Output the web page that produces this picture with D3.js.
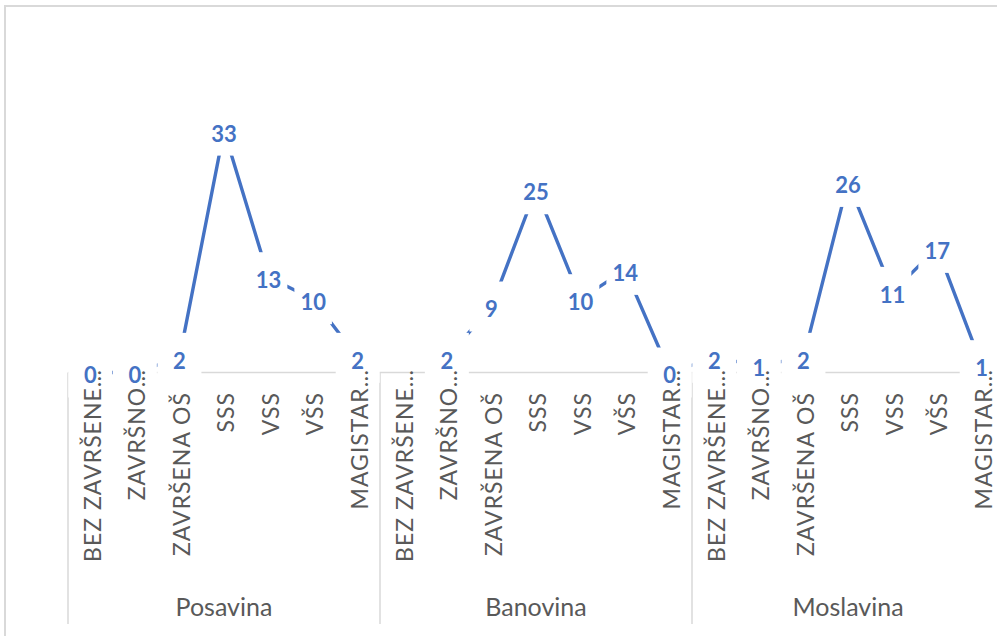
<!DOCTYPE html>
<html>
<head>
<meta charset="utf-8">
<script src="https://cdn.jsdelivr.net/npm/d3@7"></script>
<style>
  html, body { margin: 0; padding: 0; background: #fff; }
  svg { display: block; }
</style>
</head>
<body>
<svg id="chart" width="997" height="636"></svg>
<script>
// ---- data ----
const groups = ["Posavina", "Banovina", "Moslavina"];
const categories = ["BEZ ZAVRŠENE…", "ZAVRŠNO…", "ZAVRŠENA OŠ", "SSS", "VSS", "VŠS", "MAGISTAR…"];
const posavina = [0, 0, 2, 33, 13, 10, 2];
const banovina = [null, 2, 9, 25, 10, 14, 0];
const moslavina = [2, 1, 2, 26, 11, 17, 1];
const seriesByGroup = [posavina, banovina, moslavina];
const yDomain = [0, 40];

// ---- build flat rows ----
const rows = [];
groups.forEach((g, gi) => {
  categories.forEach((c, ci) => {
    rows.push({ key: g + "|" + ci, group: g, cat: c, value: seriesByGroup[gi][ci] });
  });
});

const svg = d3.select("#chart");
const W = 997, H = 636;

// chart border
svg.append("rect")
  .attr("x", 5).attr("y", 6)
  .attr("width", W + 10).attr("height", H + 10)
  .attr("fill", "#fff").attr("stroke", "#d9d9d9").attr("stroke-width", 2);

const plotLeft = 68, groupW = 312;
const x = d3.scaleBand()
  .domain(rows.map(d => d.key))
  .range([plotLeft, plotLeft + groupW * groups.length])
  .paddingInner(0).paddingOuter(0);
const y = d3.scaleLinear().domain(yDomain).range([372.5, 372.5 - 7.33 * 40]);

const cx = d => x(d.key) + x.bandwidth() / 2;
const axisY = y(0);
const gray = "#d9d9d9";
const blue = "#4472C4";
const textGray = "#595959";

// x axis baseline
svg.append("line")
  .attr("x1", plotLeft).attr("x2", plotLeft + groupW * groups.length)
  .attr("y1", axisY).attr("y2", axisY)
  .attr("stroke", gray).attr("stroke-width", 1.5);

// group separators
const sepX = d3.range(groups.length + 1).map(i => plotLeft + groupW * i);
svg.selectAll("line.sep").data(sepX).enter().append("line")
  .attr("class", "sep")
  .attr("x1", d => d).attr("x2", d => d)
  .attr("y1", axisY).attr("y2", 624)
  .attr("stroke", gray).attr("stroke-width", 1.5);

// series line
const line = d3.line()
  .defined(d => d.value !== null)
  .x(d => cx(d))
  .y(d => y(d.value));
svg.append("path")
  .datum(rows)
  .attr("d", line)
  .attr("fill", "none")
  .attr("stroke", blue)
  .attr("stroke-width", 3.4)
  .attr("stroke-linejoin", "round");

// data labels with white boxes
const labelRows = rows.filter(d => d.value !== null);
const lg = svg.append("g");
const lab = lg.selectAll("g.lab").data(labelRows).enter().append("g").attr("class", "lab");
lab.append("text")
  .attr("x", d => cx(d))
  .attr("y", d => y(d.value) + 3)
  .attr("dy", "0.36em")
  .attr("text-anchor", "middle")
  .attr("font-family", "Lato, 'Open Sans', sans-serif")
  .attr("font-weight", "bold")
  .attr("font-size", "22px")
  .attr("fill", blue)
  .text(d => d.value);
lab.each(function(d) {
  const t = d3.select(this).select("text");
  const tw = t.node().getComputedTextLength();
  const bw = String(d.value).length === 1 ? 44 : tw + 12;
  d3.select(this).insert("rect", "text")
    .attr("x", cx(d) - bw / 2)
    .attr("y", y(d.value) - 25)
    .attr("width", bw)
    .attr("height", 50)
    .attr("fill", "#fff");
});

// category labels (rotated)
svg.selectAll("text.cat").data(rows).enter().append("text")
  .attr("class", "cat")
  .attr("transform", d => {
    const top = d.cat.endsWith("…") ? 369 : 392;
    return `translate(${cx(d) + 2},${top}) rotate(-90)`;
  })
  .attr("dy", "0.36em")
  .attr("text-anchor", "end")
  .attr("font-family", "Lato, 'Open Sans', sans-serif")
  .attr("font-size", "23px")
  .attr("letter-spacing", "1px")
  .attr("fill", textGray)
  .text(d => d.cat);

// group labels
svg.selectAll("text.grp").data(groups).enter().append("text")
  .attr("class", "grp")
  .attr("x", (d, i) => plotLeft + groupW * i + groupW / 2)
  .attr("y", 616)
  .attr("text-anchor", "middle")
  .attr("font-family", "Lato, 'Open Sans', sans-serif")
  .attr("font-size", "25px")
  .attr("fill", textGray)
  .text(d => d);
</script>
</body>
</html>
